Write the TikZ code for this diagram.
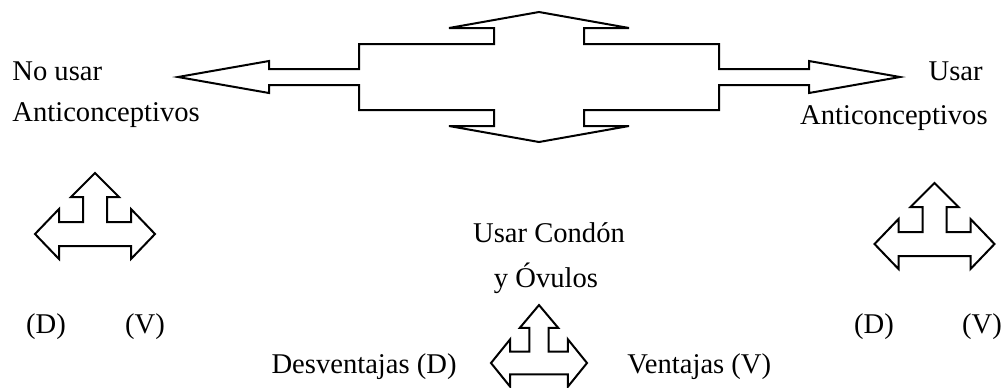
\documentclass[tikz,border=0pt]{standalone}
\usepackage{fontspec}
\setmainfont{Liberation Serif}
\usepackage{tikz}
\usetikzlibrary{positioning}

\tikzset{
  flecha/.style={draw=black, line width=1pt, line join=miter, fill=white},
  texto/.style={inner sep=0pt, font=\fontsize{14.3}{17}\selectfont},
  tresflechas/.pic={
    \draw[flecha] (-60,0) -- (-36,-25) -- (-36,-12) -- (-12,-12) -- (-12,-37)
      -- (-24,-37) -- (0,-61) -- (24,-37) -- (12,-37) -- (12,-12) -- (36,-12)
      -- (36,-25) -- (60,0) -- (36,25) -- (36,12) -- (-36,12) -- (-36,25) -- cycle;
  }
}

\begin{document}
\begin{tikzpicture}[x=0.5pt, y=-0.5pt]
      \useasboundingbox (0,0) rectangle (1005,387);
      % flecha grande de cuatro puntas
      \draw[flecha] (178,77) -- (269,61) -- (269,69) -- (359,69) -- (359,44)
        -- (494,44) -- (494,28) -- (449,28) -- (539,12) -- (629,28) -- (584,28)
        -- (584,44) -- (719,44) -- (719,69) -- (809,69) -- (809,61) -- (900,77)
        -- (809,93) -- (809,85) -- (719,85) -- (719,110) -- (584,110) -- (584,126)
        -- (629,126) -- (539,142) -- (449,126) -- (494,126) -- (494,110)
        -- (359,110) -- (359,85) -- (269,85) -- (269,93) -- cycle;
      % flechas de tres puntas
      \pic at (95,234) {tresflechas};
      \pic at (934.5,244) {tresflechas};
      \pic[xscale=0.8, yscale=0.95] at (539,363) {tresflechas};
      % textos
      \node[texto, anchor=base west] (nousar) at (12,80) {No usar};
      \node[texto, anchor=base west] (antiizq) at (12,121) {Anticonceptivos};
      \node[texto, anchor=base east] (usar) at (983,80) {Usar};
      \node[texto, anchor=base east] (antider) at (988,124) {Anticonceptivos};
      \node[texto, anchor=base] (condon) at (549,242) {Usar Condón};
      \node[texto, anchor=base] (ovulos) at (546,287) {y Óvulos};
      \node[texto, anchor=base] (dizq) at (46,333) {(D)};
      \node[texto, anchor=base] (vizq) at (145,333) {(V)};
      \node[texto, anchor=base] (dder) at (874,333) {(D)};
      \node[texto, anchor=base] (vder) at (982,333) {(V)};
      \node[texto, anchor=base east] (desv) at (457,373) {Desventajas (D)};
      \node[texto, anchor=base west] (vent) at (627,373) {Ventajas (V)};
    \end{tikzpicture}
\end{document}
